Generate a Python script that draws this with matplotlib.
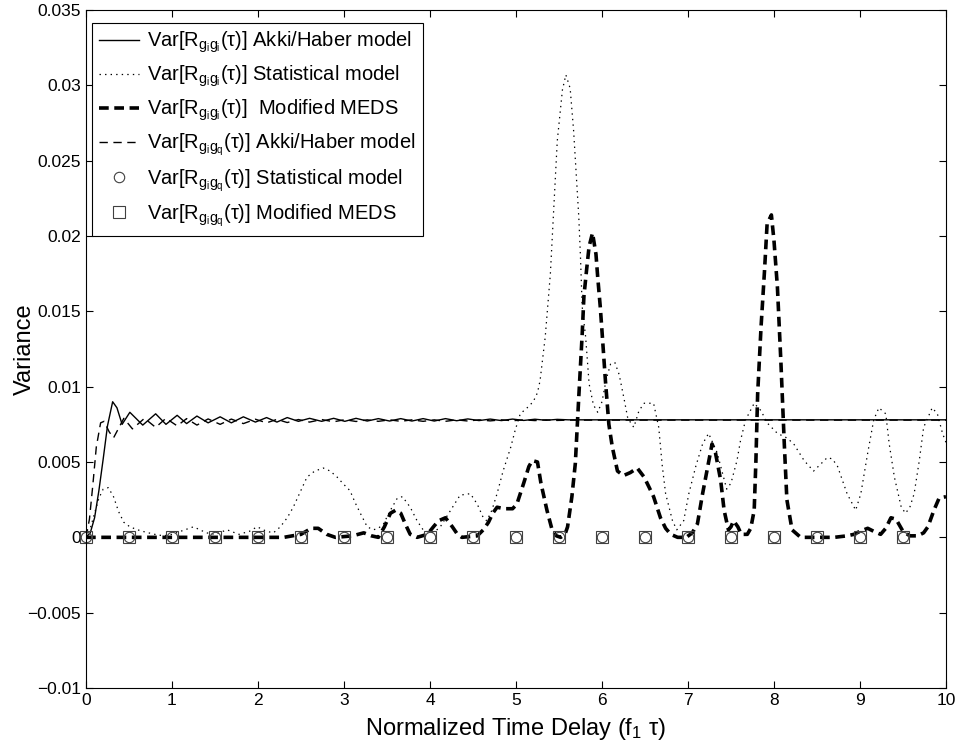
import matplotlib
matplotlib.use("Agg")
import matplotlib.pyplot as plt

plt.rcParams['font.family'] = ['Liberation Sans', 'DejaVu Sans']
plt.rcParams['mathtext.fontset'] = 'custom'
plt.rcParams['mathtext.rm'] = 'Liberation Sans'
plt.rcParams['mathtext.it'] = 'Liberation Sans'
plt.rcParams['lines.scale_dashes'] = False

# Var[R_gigi] Akki/Haber model (solid)
x_ah_ii = [0, 0.05, 0.1, 0.15, 0.2, 0.25, 0.31, 0.36, 0.42, 0.51, 0.66, 0.81, 0.93,
           1.06, 1.17, 1.29, 1.42, 1.56, 1.69, 1.83, 1.97, 2.10, 2.22, 2.34, 2.47,
           2.60, 2.74, 2.88, 3.01, 3.14, 3.27, 3.40, 3.53, 3.66, 3.79, 3.92, 4.05,
           4.18, 4.31, 4.44, 4.57, 4.70, 4.83, 4.96, 5.09, 5.22, 5.35, 5.48, 5.61, 10]
y_ah_ii = [0, 0.0003, 0.0013, 0.0031, 0.0052, 0.0074, 0.0090, 0.0086, 0.0075, 0.0083,
           0.00745, 0.0082, 0.0075, 0.0081, 0.00755, 0.00805, 0.0076, 0.0080, 0.0076,
           0.0080, 0.00765, 0.00795, 0.00765, 0.00795, 0.0077, 0.0079, 0.0077, 0.0079,
           0.0077, 0.0079, 0.00772, 0.00788, 0.00772, 0.00788, 0.00772, 0.00788,
           0.00772, 0.00788, 0.00774, 0.00786, 0.00775, 0.00785, 0.00775, 0.00785,
           0.00776, 0.00784, 0.00777, 0.00783, 0.0078, 0.0078]

# Var[R_gigi] Statistical model (dotted)
x_st_ii = [0, 0.05, 0.1, 0.15, 0.2, 0.26, 0.32, 0.38, 0.44, 0.51, 0.6, 0.69, 0.8, 0.9,
           1.0, 1.1, 1.25, 1.4, 1.5, 1.64, 1.78, 1.9, 1.99, 2.1, 2.18, 2.26, 2.34, 2.41,
           2.49, 2.57, 2.66, 2.76, 2.84, 2.92, 3.0, 3.07, 3.13, 3.19, 3.27, 3.34, 3.4,
           3.46, 3.54, 3.62, 3.68, 3.77, 3.85, 3.92, 4.0, 4.06, 4.12, 4.24, 4.35, 4.47,
           4.55, 4.62, 4.66, 4.72, 4.78, 4.85, 4.94, 4.99, 5.05, 5.13, 5.2, 5.25, 5.28,
           5.34, 5.40, 5.44, 5.48, 5.54, 5.58, 5.63, 5.67, 5.70, 5.73, 5.75, 5.77, 5.81,
           5.85, 5.9, 5.95, 6.0, 6.05, 6.1, 6.15, 6.2, 6.26, 6.3, 6.37, 6.43, 6.49, 6.6,
           6.66, 6.7, 6.74, 6.82, 6.87, 6.95, 7.01, 7.09, 7.17, 7.24, 7.34, 7.45, 7.5,
           7.57, 7.61, 7.67, 7.77, 7.85, 7.92, 8.04, 8.15, 8.23, 8.35, 8.46, 8.55, 8.62,
           8.68, 8.74, 8.85, 8.95, 9.01, 9.09, 9.16, 9.22, 9.3, 9.34, 9.4, 9.48, 9.53,
           9.58, 9.63, 9.69, 9.74, 9.84, 9.9, 9.96, 10]
y_st_ii = [0, 0.0006, 0.0016, 0.0026, 0.0032, 0.0033, 0.0027, 0.0017, 0.0010, 0.0007,
           0.0005, 0.00035, 0.0002, 0.0001, 0.0002, 0.0004, 0.0007, 0.0003, 0.0002,
           0.0005, 0.0002, 0.0004, 0.0007, 0.0004, 0.0003, 0.0007, 0.0013, 0.0020,
           0.0030, 0.0040, 0.0044, 0.0046, 0.0044, 0.0040, 0.0035, 0.0031, 0.0023,
           0.0016, 0.0007, 0.0005, 0.0006, 0.0009, 0.0018, 0.0026, 0.0027, 0.0020,
           0.0011, 0.0005, 0.0003, 0.0004, 0.0007, 0.0018, 0.0028, 0.0029, 0.0022,
           0.0013, 0.0011, 0.0018, 0.0029, 0.0044, 0.0060, 0.0071, 0.0082, 0.0086,
           0.0090, 0.0096, 0.0104, 0.0133, 0.0175, 0.0219, 0.0263, 0.0297, 0.0307,
           0.0298, 0.0270, 0.0242, 0.0213, 0.0186, 0.0153, 0.0133, 0.0102, 0.0088,
           0.0083, 0.0090, 0.0105, 0.0115, 0.0116, 0.0108, 0.0091, 0.0079, 0.0073,
           0.0084, 0.0089, 0.0089, 0.0073, 0.0048, 0.0029, 0.0011, 0.0005, 0.0011,
           0.0029, 0.0047, 0.0062, 0.0069, 0.0056, 0.0032, 0.0036, 0.0051, 0.0064,
           0.0078, 0.0089, 0.0084, 0.0076, 0.0069, 0.0066, 0.0062, 0.0051, 0.0044,
           0.0049, 0.0053, 0.0052, 0.0047, 0.0029, 0.0018, 0.0029, 0.0056, 0.0078,
           0.0086, 0.0082, 0.0062, 0.0040, 0.0020, 0.0016, 0.0020, 0.0029, 0.0051,
           0.0073, 0.0086, 0.0082, 0.0069, 0.0063]

# Var[R_gigi] Modified MEDS (thick dashed)
x_meds_ii = [0, 0.5, 1, 1.5, 2.0, 2.3, 2.5, 2.62, 2.7, 2.8, 2.9, 3.1, 3.23, 3.32, 3.4,
             3.47, 3.54, 3.6, 3.66, 3.72, 3.77, 3.85, 3.97, 4.04, 4.1, 4.18, 4.26, 4.32,
             4.37, 4.55, 4.62, 4.68, 4.73, 4.78, 4.86, 4.96, 5.01, 5.09, 5.15, 5.19,
             5.25, 5.29, 5.36, 5.42, 5.47, 5.52, 5.57, 5.6, 5.65, 5.69, 5.73, 5.77,
             5.79, 5.82, 5.85, 5.89, 5.93, 5.95, 5.98, 6.0, 6.04, 6.08, 6.12, 6.18,
             6.25, 6.33, 6.41, 6.49, 6.55, 6.6, 6.68, 6.74, 6.8, 6.88, 6.98, 7.05,
             7.11, 7.17, 7.23, 7.28, 7.32, 7.38, 7.42, 7.47, 7.5, 7.53, 7.58, 7.62,
             7.69, 7.73, 7.77, 7.79, 7.81, 7.85, 7.89, 7.92, 7.97, 8.0, 8.04, 8.08,
             8.12, 8.15, 8.21, 8.31, 8.7, 8.85, 8.93, 9.0, 9.09, 9.16, 9.24, 9.3,
             9.36, 9.42, 9.5, 9.58, 9.67, 9.74, 9.79, 9.86, 9.92, 10]
y_meds_ii = [0, 0, 0, 0, 0, 0, 0.0002, 0.0006, 0.0006, 0.0002, 0, 0.0001, 0.0003,
             0.0001, 0, 0.0007, 0.0016, 0.0018, 0.0016, 0.0008, 0.0002, 0, 0.0002,
             0.0007, 0.0011, 0.0013, 0.0007, 0.0002, 0, 0.0001, 0.0005, 0.0010,
             0.0016, 0.0020, 0.0019, 0.0019, 0.0022, 0.0036, 0.0047, 0.0051, 0.0050,
             0.0036, 0.0018, 0.0005, 0.0001, 0, 0.0002, 0.0007, 0.0027, 0.0049,
             0.0093, 0.0135, 0.0160, 0.0177, 0.0193, 0.0202, 0.0188, 0.0173, 0.0153,
             0.0137, 0.0104, 0.0075, 0.0060, 0.0044, 0.0041, 0.0043, 0.0046, 0.0040,
             0.0033, 0.0027, 0.0013, 0.0006, 0.0002, 0, 0, 0.0003, 0.0009, 0.0029,
             0.0047, 0.0062, 0.0056, 0.0038, 0.0018, 0.0005, 0.0007, 0.0011, 0.0007,
             0.0002, 0.0002, 0.0006, 0.0018, 0.0051, 0.0095, 0.0140, 0.0177, 0.0208,
             0.0214, 0.0197, 0.0166, 0.0117, 0.0062, 0.0025, 0.0005, 0, 0, 0.0001,
             0.0002, 0.0004, 0.0006, 0.0004, 0.0002, 0.0006, 0.0013, 0.0012, 0.0004,
             0.0001, 0.0001, 0.0003, 0.0007, 0.0018, 0.0026, 0.0027]

# Var[R_giq] Akki/Haber model (thin dashed)
x_ah_iq = [0, 0.04, 0.08, 0.12, 0.17, 0.21, 0.27, 0.32, 0.44, 0.54, 0.68, 0.81, 0.93,
           1.06, 1.17, 1.29, 1.42, 1.56, 1.69, 1.83, 1.97, 2.10, 2.22, 2.34, 2.47,
           2.60, 2.74, 2.88, 3.01, 3.14, 3.27, 3.40, 3.53, 3.66, 3.79, 3.92, 4.05,
           4.18, 4.31, 4.44, 4.57, 4.70, 4.83, 4.96, 5.09, 5.22, 5.35, 5.48, 5.61, 10]
y_ah_iq = [0, 0.0012, 0.0035, 0.0060, 0.0076, 0.0077, 0.0070, 0.0066, 0.0079, 0.0072,
           0.0079, 0.0073, 0.0079, 0.0074, 0.00788, 0.00745, 0.00786, 0.0075, 0.00785,
           0.00755, 0.00784, 0.0076, 0.00783, 0.00762, 0.00782, 0.00765, 0.00782,
           0.00767, 0.00781, 0.00769, 0.0078, 0.0077, 0.0078, 0.0077, 0.0078, 0.0077,
           0.0078, 0.0077, 0.0078, 0.00772, 0.0078, 0.00773, 0.0078, 0.00774, 0.0078,
           0.00775, 0.0078, 0.00776, 0.00778, 0.00778]

# Var[R_giq] Statistical model (circles) and Modified MEDS (squares)
x_iq_marks = [0, 0.5, 1, 1.5, 2, 2.5, 3, 3.5, 4, 4.5, 5, 5.5, 6, 6.5, 7, 7.5, 8, 8.5, 9, 9.5]
y_st_iq = [0, 0, 0, 0, 0, 0, 0, 0, 0, 0, 0, 0, 0, 0, 0, 0, 0, 0, 0, 0]
y_meds_iq = [0, 0, 0, 0, 0, 0, 0, 0, 0, 0, 0, 0, 0, 0, 0, 0, 0, 0, 0, 0]

labels = [r'Var[R$_{g_ig_i}$(τ)] Akki/Haber model',
          r'Var[R$_{g_ig_i}$(τ)] Statistical model',
          r'Var[R$_{g_ig_i}$(τ)]  Modified MEDS',
          r'Var[R$_{g_ig_q}$(τ)] Akki/Haber model',
          r'Var[R$_{g_ig_q}$(τ)] Statistical model',
          r'Var[R$_{g_ig_q}$(τ)] Modified MEDS']

yticks = [-0.01, -0.005, 0, 0.005, 0.01, 0.015, 0.02, 0.025, 0.03, 0.035]
ytick_labels = ['\u22120.01', '\u22120.005', '0', '0.005', '0.01', '0.015', '0.02',
                '0.025', '0.03', '0.035']

fig = plt.figure(figsize=(9.64, 7.53), dpi=100)
ax = fig.add_axes([0.0892, 0.0863, 0.8921, 0.9004])

ax.plot(x_ah_ii, y_ah_ii, color='k', lw=1.0, label=labels[0])
ax.plot(x_st_ii, y_st_ii, color='k', lw=0.9, ls=(0, (1, 3)), label=labels[1])
ax.plot(x_meds_ii, y_meds_ii, color='k', lw=2.6, ls=(0, (7, 4)), label=labels[2])
ax.plot(x_ah_iq, y_ah_iq, color='k', lw=1.0, ls=(0, (6, 4)), label=labels[3])
ax.plot(x_iq_marks, y_st_iq, ls='none', marker='o', ms=7.5, mfc='none',
        mec='0.25', mew=0.8, clip_on=False, label=labels[4])
ax.plot(x_iq_marks, y_meds_iq, ls='none', marker='s', ms=8, mfc='none',
        mec='0.25', mew=0.8, clip_on=False, label=labels[5])

ax.set_xlim(0, 10)
ax.set_ylim(-0.01, 0.035)
ax.set_xticks(range(11))
ax.set_yticks(yticks)
ax.set_yticklabels(ytick_labels)
ax.tick_params(direction='in', top=True, right=True, labelsize=12.5, length=5,
               width=0.8)
for s in ax.spines.values():
    s.set_linewidth(0.8)

ax.set_xlabel(r'Normalized Time Delay (f$_1$ τ)', fontsize=17, labelpad=6)
ax.set_ylabel('Variance', fontsize=17)
ax.yaxis.set_label_coords(-0.058, 0.5)

leg = ax.legend(loc='upper left', bbox_to_anchor=(0.007, 0.981), borderaxespad=0,
                fontsize=14.5, fancybox=False, edgecolor='k', framealpha=1,
                handlelength=2.0, labelspacing=0.42, borderpad=0.35,
                handletextpad=0.4)
leg.get_frame().set_linewidth(0.8)

fig.savefig('out.png', dpi=100)
